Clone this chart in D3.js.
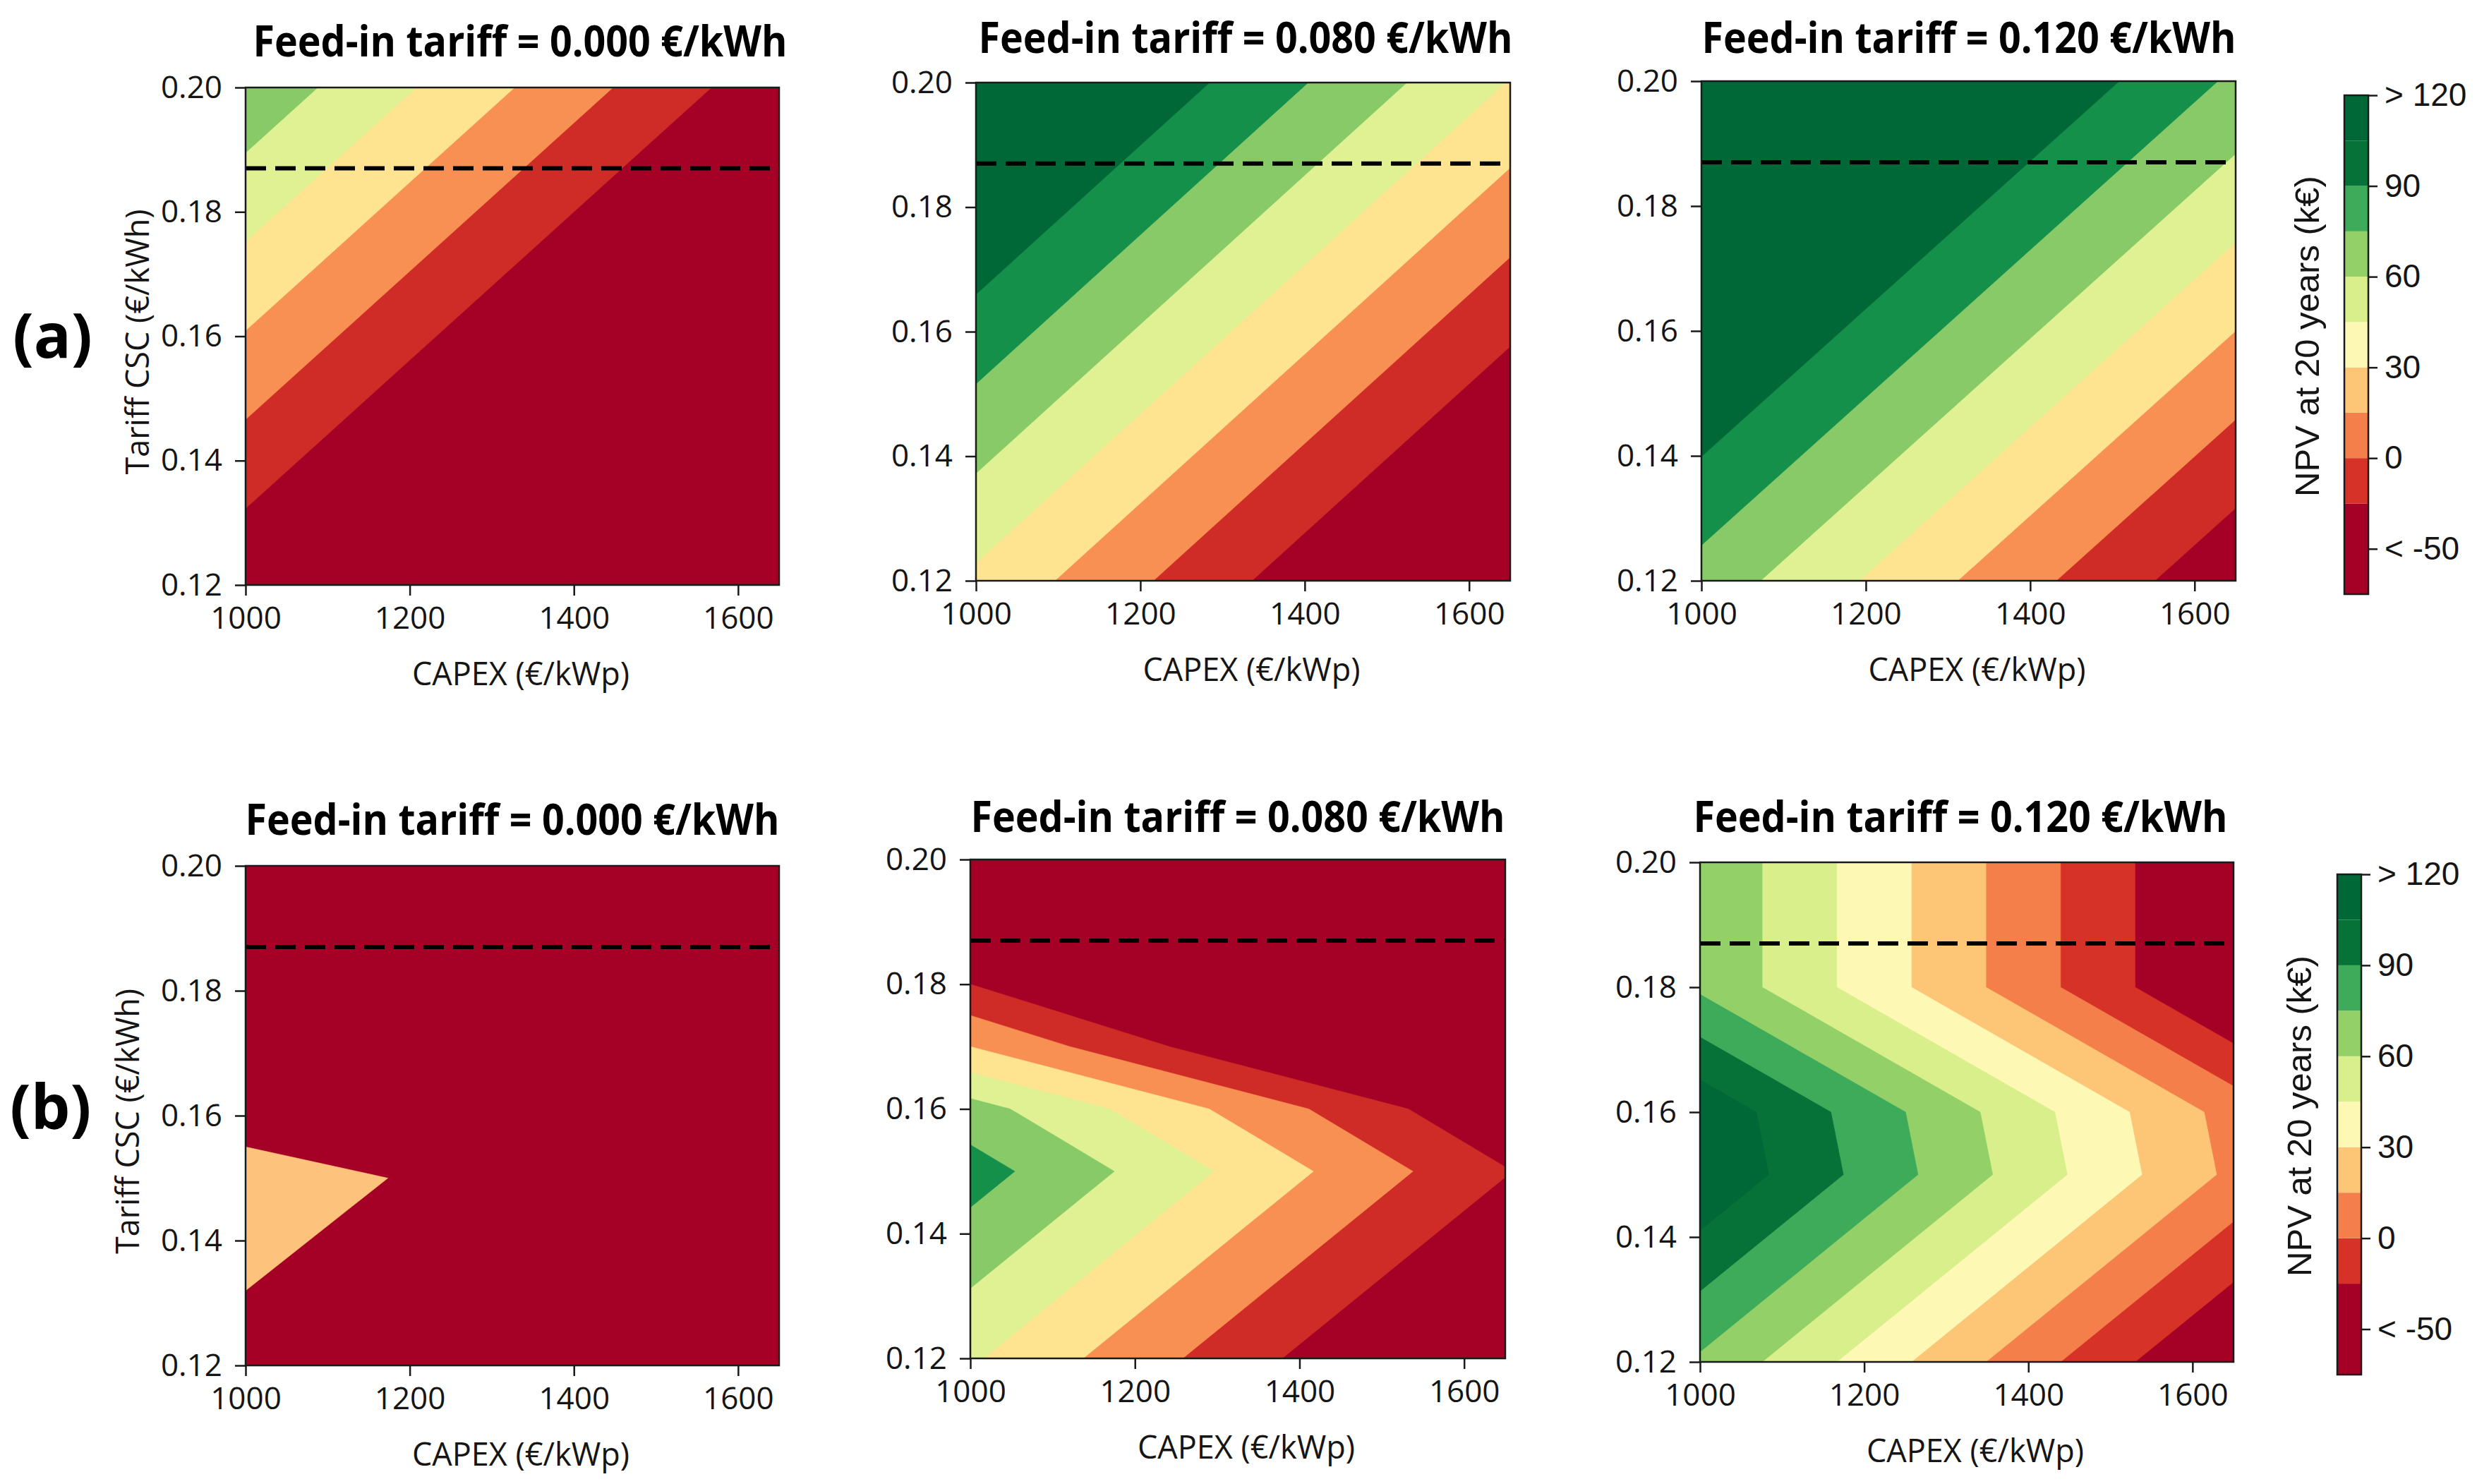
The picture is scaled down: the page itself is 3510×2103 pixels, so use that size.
<!DOCTYPE html>
<html>
<head>
<meta charset="utf-8">
<script src="https://cdn.jsdelivr.net/npm/d3@7"></script>
<style>
  body { margin: 0; background: #fff; }
  svg { display: block; }
  .tick text { font-family: "Open Sans", sans-serif; font-size: 44px; fill: #151515; }
  .tick line { stroke: #1a1a1a; stroke-width: 2.5; }
</style>
</head>
<body>
<div id="chart"></div>
<script>
console.log("npv contour panels");

// ---- data ----
// NPV (k€) at CAPEX = 1000 and 1650 €/kWp, one row per tariff CSC value
const capexGrid = [1000, 1650];

const tariffRowsA = [0.12, 0.20];
const npvA1 = [[-27.9, -109.2], [56.0, -25.3]];
const npvA2 = [[27.0, -54.3], [110.5, 29.3]];
const npvA3 = [[54.0, -27.3], [138.5, 57.3]];

const tariffRowsB1 = [0.12, 0.15, 0.16, 0.20];
const npvB1 = [[-14.3, -94.9], [21.5, -59.1], [-21.5, -102.1], [-60.0, -140.6]];
const tariffRowsB2 = [0.12, 0.15, 0.16, 0.17, 0.18, 0.20];
const npvB2 = [[32.0, -48.6], [66.7, -13.9], [51.0, -29.6], [15.0, -65.6], [-15.0, -95.6], [-45.0, -125.6]];
const tariffRowsB3 = [0.12, 0.15, 0.16, 0.18, 0.20];
const npvB3 = [[72.5, -34.8], [118.8, 11.6], [116.3, 9.1], [72.5, -34.8], [72.5, -34.8]];

const levelsA = [-15, 0, 15, 30, 45, 60, 75];
const colorsA = ["#a50026", "#cf2b27", "#f88f53", "#fee391", "#dff193", "#87ca67", "#15904b", "#006837"];
const levelsB = [-15, 0, 15, 30, 45, 60, 75, 90, 105];
const colorsB = ["#a50026", "#d73228", "#f57f4b", "#fdc677", "#fef8b5", "#d8ef8b", "#93d068", "#3dab5a", "#077238", "#006837"];
const levelsB1 = [0];
const colorsB1 = ["#a50026", "#fdc27b"];

const feedIn = ["0.000", "0.080", "0.120"];
const cscTariff = 0.187;

const xTicks = [1000, 1200, 1400, 1600];
const yTicks = [0.12, 0.14, 0.16, 0.18, 0.20];

const cbarBounds = [-45, -15, 0, 15, 30, 45, 60, 75, 90, 105, 120];
const cbarTicks = [120, 90, 60, 30, 0, -30];
const cbarTickLabels = ["> 120", "90", "60", "30", "0", "< -50"];

// ---- layout ----
const W = 3510, H = 2103;
const svg = d3.select("#chart").append("svg").attr("width", W).attr("height", H);

const panels = [
  {x: 348,  y: 124,  w: 756, h: 705, tx: 737,  ty: 80,   fit: 0, tariff: tariffRowsA,  npv: npvA1, levels: levelsA,  colors: colorsA,  ylab: 193},
  {x: 1383, y: 117,  w: 757, h: 706, tx: 1765, ty: 75,   fit: 1, tariff: tariffRowsA,  npv: npvA2, levels: levelsA,  colors: colorsA},
  {x: 2411, y: 115,  w: 757, h: 708, tx: 2790, ty: 75,   fit: 2, tariff: tariffRowsA,  npv: npvA3, levels: levelsA,  colors: colorsA},
  {x: 348,  y: 1227, w: 756, h: 708, tx: 726,  ty: 1183, fit: 0, tariff: tariffRowsB1, npv: npvB1, levels: levelsB1, colors: colorsB1, ylab: 179},
  {x: 1375, y: 1218, w: 758, h: 707, tx: 1754, ty: 1179, fit: 1, tariff: tariffRowsB2, npv: npvB2, levels: levelsA,  colors: colorsA},
  {x: 2409, y: 1222, w: 756, h: 708, tx: 2778, ty: 1179, fit: 2, tariff: tariffRowsB3, npv: npvB3, levels: levelsB,  colors: colorsB}
];

panels.forEach(function(p, k) {
  let xs = d3.scaleLinear().domain([1000, 1650]).range([p.x, p.x + p.w]);
  let ys = d3.scaleLinear().domain([0.12, 0.20]).range([p.y + p.h, p.y]);

  let clipId = "clip" + k;
  svg.append("clipPath").attr("id", clipId)
    .append("rect").attr("x", p.x).attr("y", p.y).attr("width", p.w).attr("height", p.h);

  let g = svg.append("g").attr("clip-path", "url(#" + clipId + ")");

  // grid sample i sits at i + 0.5 in contour space
  let n = capexGrid.length, m = p.tariff.length;
  let gx = d3.scaleLinear().domain([0.5, n - 0.5]).range([xs(capexGrid[0]), xs(capexGrid[n - 1])]);
  let gy = d3.scaleLinear().domain(p.tariff.map((t, j) => j + 0.5)).range(p.tariff.map(ys));
  let path = d3.geoPath(d3.geoTransform({
    point: function(x, y) { this.stream.point(gx(x), gy(y)); }
  }));

  let bands = d3.contours().size([n, m]).thresholds(p.levels)(p.npv.flat());

  g.append("rect")
    .attr("x", p.x).attr("y", p.y).attr("width", p.w).attr("height", p.h)
    .attr("fill", p.colors[0]);

  g.selectAll("path.band").data(bands)
    .enter()
      .append("path")
      .attr("class", "band")
      .attr("d", path)
      .attr("fill", (d, i) => p.colors[i + 1])
      .attr("stroke", (d, i) => p.colors[i + 1])
      .attr("stroke-width", 0.6)
  ;

  // dashed CSC reference tariff
  g.append("line")
    .attr("x1", p.x).attr("x2", p.x + p.w)
    .attr("y1", ys(cscTariff)).attr("y2", ys(cscTariff))
    .attr("stroke", "#000").attr("stroke-width", 6)
    .attr("stroke-dasharray", "29,13");

  // axes
  svg.append("g")
    .attr("transform", "translate(0," + (p.y + p.h) + ")")
    .call(d3.axisBottom(xs).tickValues(xTicks).tickFormat(d3.format("d")).tickSize(15).tickPadding(16))
    .call(a => a.select(".domain").remove());

  svg.append("g")
    .attr("transform", "translate(" + p.x + ",0)")
    .call(d3.axisLeft(ys).tickValues(yTicks).tickFormat(d3.format(".2f")).tickSize(15).tickPadding(18))
    .call(a => a.select(".domain").remove());

  svg.append("rect")
    .attr("x", p.x).attr("y", p.y).attr("width", p.w).attr("height", p.h)
    .attr("fill", "none").attr("stroke", "#1a1a1a").attr("stroke-width", 2.5);

  svg.append("text")
    .attr("x", p.x + p.w / 2 + 12).attr("y", p.y + p.h + 142)
    .attr("text-anchor", "middle")
    .style("font-family", "'Open Sans', sans-serif").style("font-size", "45px").style("fill", "#151515")
    .text("CAPEX (€/kWp)");

  if (p.ylab) {
    svg.append("text")
      .attr("transform", "translate(" + p.ylab + "," + (p.y + p.h / 2 + 8) + ") rotate(-90)")
      .attr("text-anchor", "middle").attr("dominant-baseline", "central")
      .style("font-family", "'Open Sans', sans-serif").style("font-size", "45px").style("fill", "#151515")
      .text("Tariff CSC (€/kWh)");
  }

  svg.append("text")
    .attr("x", p.tx).attr("y", p.ty)
    .attr("text-anchor", "middle")
    .attr("textLength", 757).attr("lengthAdjust", "spacingAndGlyphs")
    .style("font-family", "'Open Sans', sans-serif").style("font-weight", 700)
    .style("font-size", "60px").style("fill", "#000")
    .text("Feed-in tariff = " + feedIn[p.fit] + " €/kWh");
});

// row labels
svg.append("text").attr("x", 18).attr("y", 507)
  .style("font-family", "'Open Sans', sans-serif").style("font-weight", 700).style("font-size", "88px")
  .text("(a)");
svg.append("text").attr("x", 14).attr("y", 1600)
  .style("font-family", "'Open Sans', sans-serif").style("font-weight", 700).style("font-size", "88px")
  .text("(b)");

// colour bars
const bars = [
  {x: 3322, y: 135,  w: 34, h: 707, lab: 3269},
  {x: 3312, y: 1239, w: 34, h: 709, lab: 3258}
];

bars.forEach(function(b) {
  let cs = d3.scaleLinear().domain([-45, 120]).range([b.y + b.h, b.y]);
  let cells = cbarBounds.slice(0, -1).map((v, i) => ({lo: v, hi: cbarBounds[i + 1], c: colorsB[i]}));

  svg.selectAll(null).data(cells)
    .enter()
      .append("rect")
      .attr("x", b.x).attr("width", b.w)
      .attr("y", d => cs(d.hi)).attr("height", d => cs(d.lo) - cs(d.hi))
      .attr("fill", d => d.c)
  ;

  svg.append("rect")
    .attr("x", b.x).attr("y", b.y).attr("width", b.w).attr("height", b.h)
    .attr("fill", "none").attr("stroke", "#1a1a1a").attr("stroke-width", 2.5);

  let ax = svg.append("g")
    .attr("transform", "translate(" + (b.x + b.w) + ",0)")
    .call(d3.axisRight(cs).tickValues(cbarTicks).tickFormat((d, i) => cbarTickLabels[i]).tickSize(13).tickPadding(10))
    .call(a => a.select(".domain").remove());
  ax.selectAll("text").style("font-family", "'Liberation Sans', Arial, sans-serif").style("font-size", "46px");

  svg.append("text")
    .attr("transform", "translate(" + b.lab + "," + (b.y + b.h / 2 - 12) + ") rotate(-90)")
    .attr("text-anchor", "middle").attr("dominant-baseline", "central")
    .style("font-family", "'Liberation Sans', Arial, sans-serif").style("font-size", "49px").style("fill", "#151515")
    .text("NPV at 20 years (k€)");
});
</script>
</body>
</html>
